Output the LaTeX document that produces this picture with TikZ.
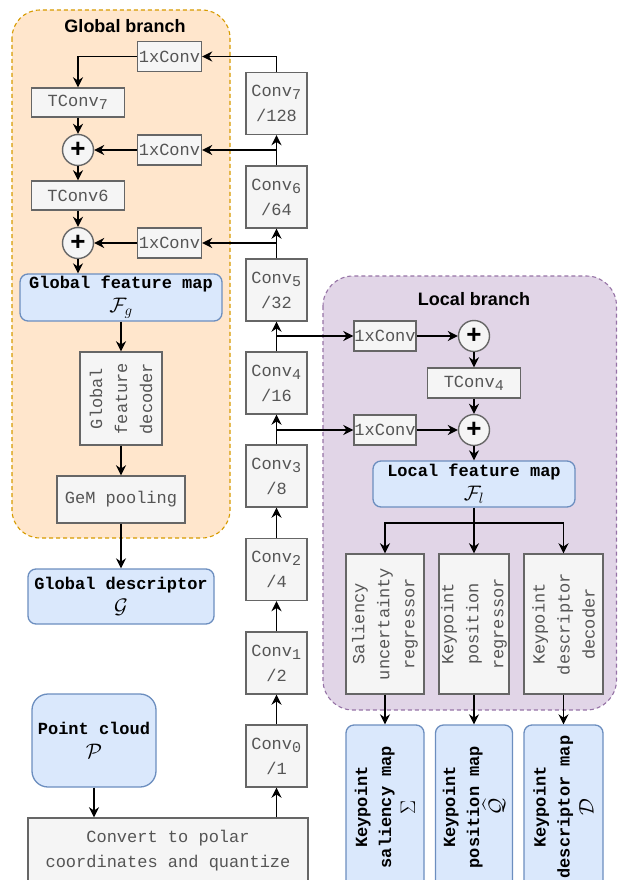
\RequirePackage{fix-cm}
\documentclass[tikz,border=0pt]{standalone}
\usepackage{fontspec}
\setsansfont{Liberation Sans}
\setmonofont{Liberation Mono}
\usepackage{amsmath}
\usetikzlibrary{arrows.meta}
\DeclareMathSizes{17}{21}{15}{11}
\definecolor{fillgray}{HTML}{F5F5F5}
\definecolor{linegray}{HTML}{666666}
\definecolor{textgray}{HTML}{555555}
\definecolor{bluefill}{HTML}{DAE8FC}
\definecolor{blueline}{HTML}{6C8EBF}
\definecolor{orangefill}{HTML}{FFE6CC}
\definecolor{orangeline}{HTML}{D79B00}
\definecolor{purplefill}{HTML}{E1D5E7}
\definecolor{purpleline}{HTML}{9673A6}

\begin{document}
\begin{tikzpicture}[x=1pt, y=-1pt,
	graybox/.style={draw=linegray, fill=fillgray, text=textgray, line width=1.4pt, inner sep=0pt, align=center, font=\ttfamily\fontsize{17}{25}\selectfont},
	outbox/.style={draw=blueline, fill=bluefill, rounded corners=8pt, line width=1.3pt, inner sep=0pt, align=center, font=\ttfamily\bfseries\fontsize{17}{24}\selectfont},
	sumnode/.style={circle, draw=linegray, fill=fillgray, line width=1.4pt, minimum size=31pt, inner sep=0pt, font=\sffamily\bfseries\fontsize{26}{26}\selectfont},
	convblock/.style={graybox, minimum width=61pt, minimum height=62pt},
	onexone/.style={graybox, minimum width=64pt, minimum height=30pt},
	branchtitle/.style={font=\sffamily\bfseries\fontsize{18}{18}\selectfont},
	arr/.style={-{Stealth[length=10pt, width=10pt]}, line width=1.7pt}]
	\useasboundingbox (0,0) rectangle (618,880);
	\clip (0,0) rectangle (618,880);

	% branches
	\draw[orangeline, fill=orangefill, dash pattern=on 4pt off 3pt, line width=1.1pt, rounded corners=28pt] (12,10) rectangle (230,538);
	\draw[purpleline, fill=purplefill, dash pattern=on 4pt off 3pt, line width=1.1pt, rounded corners=30pt] (323,276) rectangle (616.5,710);
	\node[branchtitle] (gtitle) at (125,26) {Global branch};
	\node[branchtitle] (ltitle) at (474,299) {Local branch};

	% backbone
	\node[graybox, minimum width=280pt, minimum height=66pt] (polar) at (168,851) {Convert to polar\\coordinates and quantize};
	\node[outbox, rounded corners=16pt, minimum width=124pt, minimum height=93pt] (cloud) at (94,740.5) {Point cloud\\$\mathcal{P}$};
	\node[convblock] (conv0) at (276.5,756) {Conv\textsubscript{0}\\/1};
	\node[convblock] (conv1) at (276.5,663) {Conv\textsubscript{1}\\/2};
	\node[convblock] (conv2) at (276.5,569.5) {Conv\textsubscript{2}\\/4};
	\node[convblock] (conv3) at (276.5,476) {Conv\textsubscript{3}\\/8};
	\node[convblock] (conv4) at (276.5,383) {Conv\textsubscript{4}\\/16};
	\node[convblock] (conv5) at (276.5,290) {Conv\textsubscript{5}\\/32};
	\node[convblock] (conv6) at (276.5,197) {Conv\textsubscript{6}\\/64};
	\node[convblock] (conv7) at (276.5,103.5) {Conv\textsubscript{7}\\/128};

	% global branch
	\node[onexone] (g7) at (169.5,56.5) {1xConv};
	\node[graybox, minimum width=93pt, minimum height=29pt] (tconv7) at (78,102.5) {TConv\textsubscript{7}};
	\node[sumnode] (add7) at (78,150) {+};
	\node[onexone] (g6) at (169.5,150) {1xConv};
	\node[graybox, minimum width=93pt, minimum height=29pt] (tconv6) at (78,195.5) {TConv6};
	\node[sumnode] (add6) at (78,243) {+};
	\node[onexone] (g5) at (169.5,243) {1xConv};
	\node[outbox, minimum width=202pt, minimum height=47pt] (gmap) at (121,297.5) {Global feature map\\$\mathcal{F}_g$};
	\node[graybox, rotate=90, minimum width=93pt, minimum height=82pt] (gdec) at (121,398.5) {Global\\feature\\decoder};
	\node[graybox, minimum width=128pt, minimum height=47pt] (gem) at (121,499.5) {GeM pooling};
	\node[outbox, minimum width=186pt, minimum height=55pt] (gdesc) at (121,596.5) {Global descriptor\\$\mathcal{G}$};

	% local branch
	\node[onexone, minimum width=62pt] (l4) at (385,336) {1xConv};
	\node[sumnode] (ladd4) at (474,336) {+};
	\node[graybox, minimum width=93pt, minimum height=30pt] (tconv4) at (474,383) {TConv\textsubscript{4}};
	\node[onexone, minimum width=62pt] (l3) at (385,430) {1xConv};
	\node[sumnode] (ladd3) at (474,430) {+};
	\node[outbox, minimum width=202pt, minimum height=46pt] (lmap) at (474,484) {Local feature map\\$\mathcal{F}_l$};
	\node[graybox, rotate=90, minimum width=140pt, minimum height=78pt] (salreg) at (385,624) {Saliency\\uncertainty\\regressor};
	\node[graybox, rotate=90, minimum width=140pt, minimum height=70pt] (posreg) at (474,624) {Keypoint\\position\\regressor};
	\node[graybox, rotate=90, minimum width=140pt, minimum height=79pt] (descdec) at (563.5,624) {Keypoint\\descriptor\\decoder};
	\node[outbox, rotate=90, minimum width=164pt, minimum height=78pt] (salmap) at (385,807) {Keypoint\\saliency map\\$\Sigma$};
	\node[outbox, rotate=90, minimum width=164pt, minimum height=77pt] (posmap) at (474,807) {Keypoint\\position map\\$\widehat{\mathcal{Q}}$};
	\node[outbox, rotate=90, minimum width=164pt, minimum height=79pt] (descmap) at (563.5,807) {Keypoint\\descriptor map\\$\mathcal{D}$};
	\coordinate (split) at (474,523);

	% connections
	\draw[arr] (polar.north -| conv0) -- (conv0);
	\draw[arr] (cloud) -- (cloud |- polar.north);
	\foreach \a/\b in {conv0/conv1, conv1/conv2, conv2/conv3, conv3/conv4, conv4/conv5, conv5/conv6, conv6/conv7}
		\draw[arr] (\a) -- (\b);
	\draw[arr] (conv7) |- (g7);
	\draw[arr] (g6 -| conv6) -- (g6);
	\draw[arr] (g5 -| conv5) -- (g5);
	\draw[arr] (g7) -| (tconv7);
	\draw[arr] (tconv7) -- (add7);
	\draw[arr] (g6) -- (add7);
	\draw[arr] (add7) -- (tconv6);
	\draw[arr] (tconv6) -- (add6);
	\draw[arr] (g5) -- (add6);
	\draw[arr] (add6) -- (add6 |- gmap.north);
	\draw[arr] (gmap) -- (gdec);
	\draw[arr] (gdec) -- (gem);
	\draw[arr] (gem) -- (gdesc);

	\draw[arr] (l4 -| conv4) -- (l4); % skip to local
	\draw[arr] (l3 -| conv3) -- (l3);
	\draw[arr] (l4) -- (ladd4);
	\draw[arr] (ladd4) -- (tconv4);
	\draw[arr] (tconv4) -- (ladd3);
	\draw[arr] (l3) -- (ladd3);
	\draw[arr] (ladd3) -- (lmap);
	\draw[arr] (lmap) -- (posreg);
	\draw[arr] (split) -| (salreg);
	\draw[arr] (split) -| (descdec);
	\draw[arr] (salreg) -- (salmap);
	\draw[arr] (posreg) -- (posmap);
	\draw[arr] (descdec) -- (descmap);
\end{tikzpicture}
\end{document}
